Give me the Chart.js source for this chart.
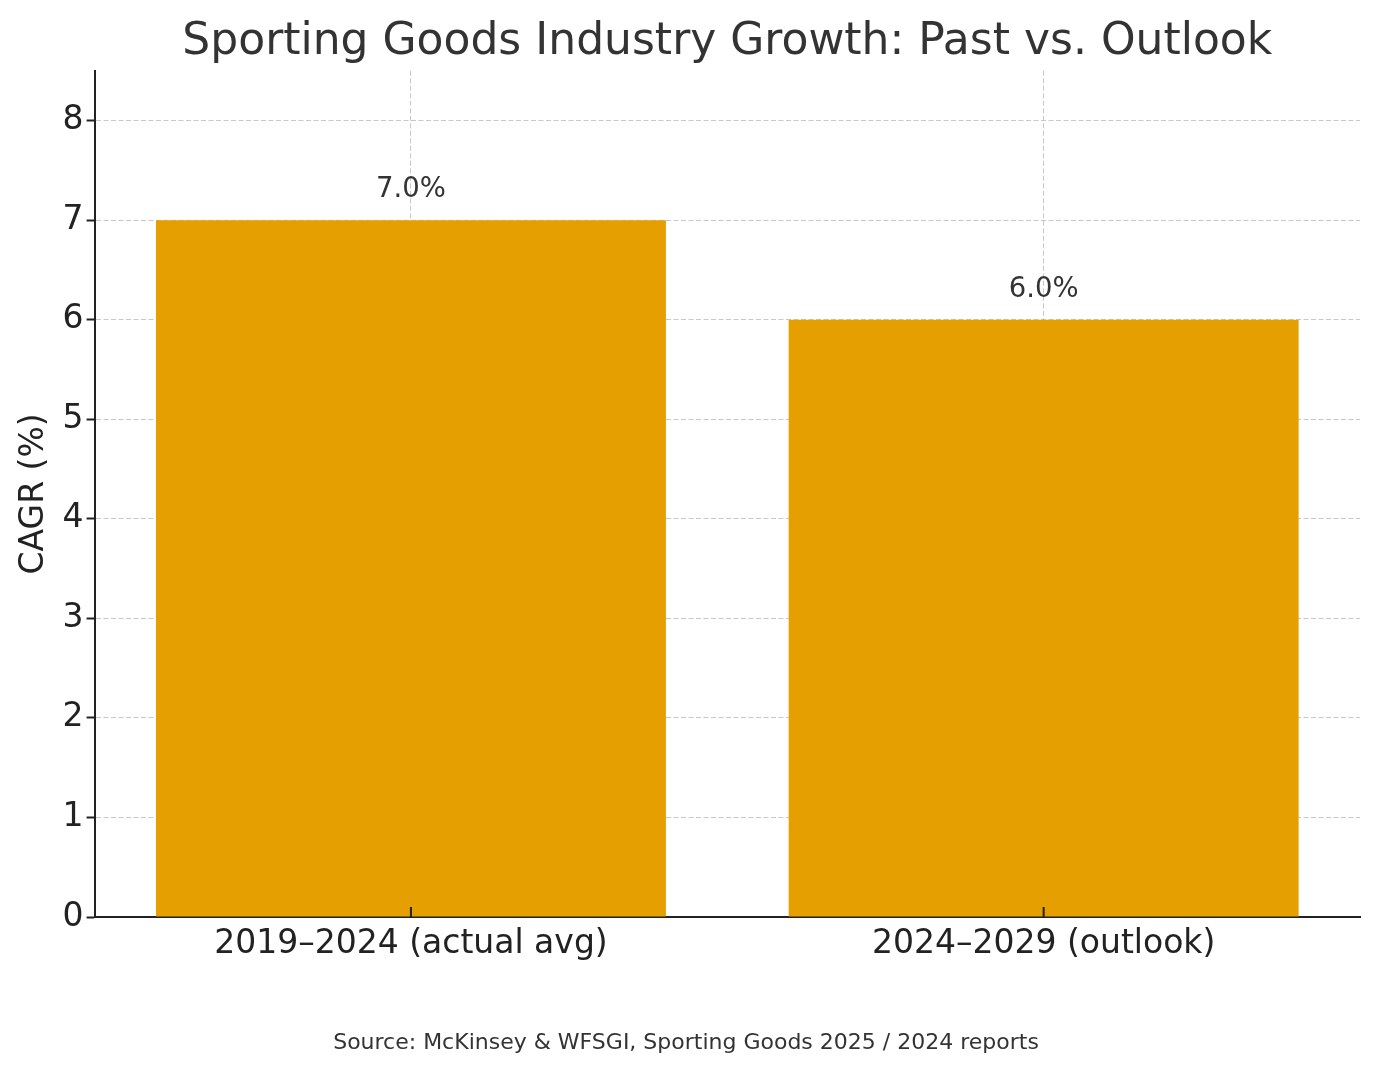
<!DOCTYPE html>
<html>
<head>
<meta charset="utf-8">
<script src="https://cdn.jsdelivr.net/npm/chart.js@4.4.1/dist/chart.umd.min.js"></script>
<style>
  html, body { margin: 0; padding: 0; background: #fff; }
  #wrap { width: 1380px; height: 1074px; }
</style>
</head>
<body>
<div id="wrap"><canvas id="barChart" width="1380" height="1074"></canvas></div>
<script>
// dados do gráfico
const categorias = ['2019–2024 (actual avg)', '2024–2029 (outlook)'];
const valoresCagr = [7.0, 6.0];
const ticksY = [0, 1, 2, 3, 4, 5, 6, 7, 8];

const gridCor = 'rgba(176,176,176,0.7)';
const eixoCor = '#222';

// rótulos em cima das barras + marcas do eixo x viradas para dentro
const extrasPlugin = {
  id: 'extras',
  afterDraw(chart) {
    const ctx = chart.ctx;
    const meta = chart.getDatasetMeta(0);
    ctx.save();
    ctx.fillStyle = '#333';
    ctx.font = '27.5px "DejaVu Sans"';
    ctx.textAlign = 'center';
    ctx.textBaseline = 'middle';
    meta.data.forEach((bar, i) => {
      ctx.fillText(valoresCagr[i].toFixed(1) + '%', bar.x, bar.y - 30);
    });
    const xs = chart.scales.x;
    const bottom = chart.chartArea.bottom;
    ctx.strokeStyle = eixoCor;
    ctx.lineWidth = 2;
    xs.ticks.forEach((t, i) => {
      const x = xs.getPixelForTick(i);
      ctx.beginPath();
      ctx.moveTo(x, bottom);
      ctx.lineTo(x, bottom - 10);
      ctx.stroke();
    });
    ctx.restore();
  }
};

const ctx = document.getElementById('barChart').getContext('2d');
const barChart = new Chart(ctx, {
  type: 'bar',
  data: {
    labels: categorias,
    datasets: [{
      label: 'CAGR (%)',
      data: valoresCagr,
      backgroundColor: '#E69F00',
      barPercentage: 0.806,
      categoryPercentage: 1.0,
    }]
  },
  options: {
    responsive: false,
    animation: false,
    devicePixelRatio: 1,
    layout: {
      padding: { top: 16, bottom: 14, left: 12, right: 20 }
    },
    plugins: {
      legend: { display: false },
      tooltip: { enabled: false },
      title: {
        display: true,
        text: 'Sporting Goods Industry Growth: Past vs. Outlook',
        color: '#333',
        fullSize: false,
        font: { family: 'DejaVu Sans', size: 44, weight: 'normal' },
        padding: { top: 0, bottom: 2 }
      },
      subtitle: {
        display: true,
        position: 'bottom',
        text: 'Source: McKinsey & WFSGI, Sporting Goods 2025 / 2024 reports',
        color: '#333',
        font: { family: 'DejaVu Sans', size: 22 },
        padding: { top: 57, bottom: 4 }
      }
    },
    scales: {
      x: {
        z: 1,
        grid: {
          display: true,
          offset: false,
          color: gridCor,
          lineWidth: 1,
          drawTicks: false
        },
        border: { display: true, color: eixoCor, width: 2, dash: [5, 2.5] },
        ticks: {
          color: eixoCor,
          padding: 8,
          font: { family: 'DejaVu Sans', size: 33 }
        }
      },
      y: {
        z: 1,
        min: 0,
        max: 8.5,
        afterBuildTicks(scale) {
          scale.ticks = ticksY.map(v => ({ value: v }));
        },
        grid: {
          color: gridCor,
          lineWidth: 1,
          tickLength: 8,
          tickColor: eixoCor,
          tickWidth: 2,
          tickBorderDash: []
        },
        border: { display: true, color: eixoCor, width: 2, dash: [5, 2.5] },
        ticks: {
          color: eixoCor,
          padding: 3,
          font: { family: 'DejaVu Sans', size: 33 }
        },
        title: {
          display: true,
          text: 'CAGR (%)',
          color: eixoCor,
          font: { family: 'DejaVu Sans', size: 33 },
          padding: { top: 3, bottom: 5 }
        }
      }
    }
  },
  plugins: [extrasPlugin]
});
</script>
</body>
</html>
